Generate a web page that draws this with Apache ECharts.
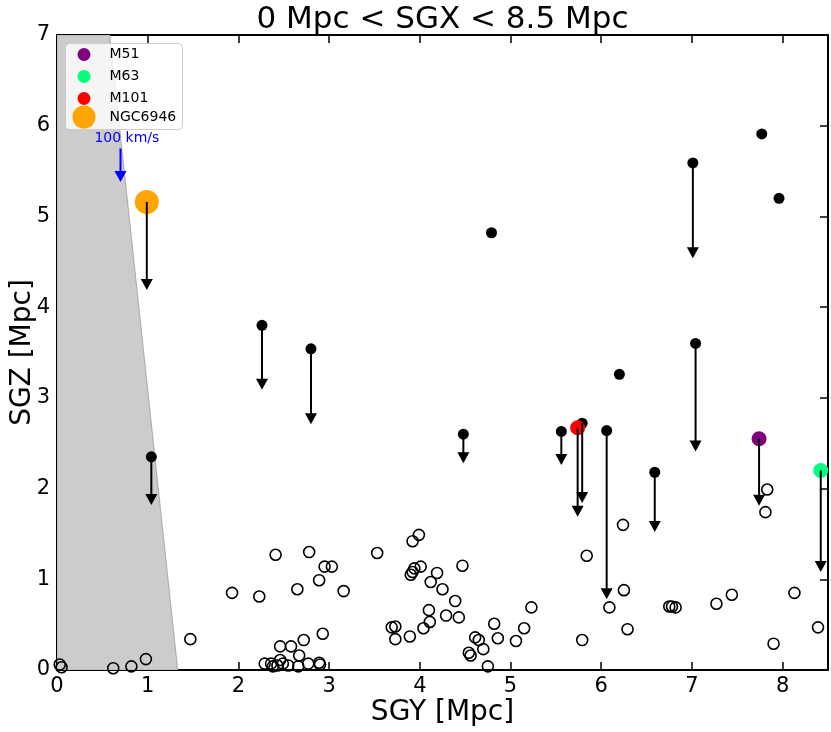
<!DOCTYPE html>
<html>
<head>
<meta charset="utf-8">
<script src="https://cdn.jsdelivr.net/npm/echarts@6/dist/echarts.min.js"></script>
<style>
html,body{margin:0;padding:0;background:#fff;}
#chart{width:831px;height:732px;}
</style>
</head>
<body>
<div id="chart"></div>
<script>
// ---- data ----
const titleText = '0 Mpc < SGX < 8.5 Mpc';
const xTicks = [0, 1, 2, 3, 4, 5, 6, 7, 8];
const yTicks = [0, 1, 2, 3, 4, 5, 6, 7];

// open circles (SGY, SGZ)
const openX = [0.03,0.05,0.62,0.82,0.98,1.47,1.93,2.23,2.41,2.78,2.95,3.03,2.89,2.65,3.16,2.93,2.72,2.58,2.46,2.67,
  2.29,2.36,2.38,2.43,2.46,2.49,2.55,2.66,2.77,2.89,2.90,
  3.53,3.99,3.92,3.90,3.92,3.94,4.01,4.19,4.12,4.25,4.47,4.39,4.10,4.11,4.29,4.43,4.04,3.69,3.73,3.73,3.89,
  4.82,4.61,4.65,4.70,4.54,4.56,4.75,4.86,5.06,5.15,5.23,5.79,5.84,6.09,6.25,6.29,6.24,6.75,6.78,6.82,
  7.27,7.44,7.90,8.13,8.39,7.83,7.81];
const openY = [0.06,0.03,0.02,0.04,0.12,0.34,0.85,0.81,1.27,1.30,1.14,1.14,0.99,0.89,0.87,0.40,0.33,0.26,0.26,0.16,
  0.07,0.07,0.04,0.05,0.11,0.07,0.05,0.04,0.07,0.08,0.06,
  1.29,1.49,1.42,1.05,1.08,1.12,1.14,1.07,0.97,0.89,1.15,0.76,0.66,0.53,0.60,0.58,0.46,0.47,0.48,0.34,0.37,
  0.51,0.36,0.33,0.23,0.19,0.16,0.04,0.35,0.32,0.46,0.69,0.33,1.26,0.69,0.88,0.45,1.60,0.70,0.70,0.69,
  0.73,0.83,0.29,0.85,0.47,1.99,1.74];

// filled black galaxies with velocity arrows (tip y; null = no arrow)
const blackX    = [1.04, 2.26, 2.80, 4.48, 5.56, 5.79, 6.06, 6.59, 7.04, 7.01, 6.20, 4.79, 7.77, 7.96];
const blackY    = [2.35, 3.80, 3.54, 2.60, 2.63, 2.72, 2.64, 2.18, 3.60, 5.59, 3.26, 4.82, 5.91, 5.20];
const blackTipY = [1.82, 3.09, 2.71, 2.28, 2.26, 1.84, 0.78, 1.52, 2.41, 4.54, null, null, null, null];

// named galaxies
const namedLabels = ['M51', 'M63', 'M101', 'NGC6946'];
const namedX      = [7.74, 8.42, 5.74, 0.99];
const namedY      = [2.55, 2.20, 2.67, 5.16];
const namedTipY   = [1.81, 1.08, 1.69, 4.19];
const namedColors = ['#800080', '#00ff7f', '#ff0000', '#ffa500'];

// shaded excluded region (polygon vertices)
const shadeX = [0, 0, 0.58, 1.33];
const shadeY = [0, 7, 7, 0];

// scale arrow
const scaleLabel = '100 km/s';
const scaleArrowX = 0.70;
const scaleArrowY0 = 5.75;
const scaleArrowY1 = 5.38;
const scaleLabelPos = [0.77, 5.86];

// ---- build ----
const FONT = 'DejaVu Sans';
const chart = echarts.init(document.getElementById('chart'));

const openData = openX.map((x, i) => [x, openY[i]]);
const blackData = blackX.map((x, i) => [x, blackY[i]]);
const arrowData = [];
blackX.forEach((x, i) => { if (blackTipY[i] !== null) arrowData.push([x, blackY[i], blackTipY[i]]); });
namedX.forEach((x, i) => arrowData.push([x, namedY[i], namedTipY[i]]));

function arrowItem(api, x, y0, y1, color) {
  const p0 = api.coord([x, y0]);
  const p1 = api.coord([x, y1]);
  const h = 11, w = 6;
  return {
    type: 'group',
    children: [
      { type: 'line', shape: { x1: p0[0], y1: p0[1], x2: p1[0], y2: p1[1] - h + 1 },
        style: { stroke: color, lineWidth: 2 } },
      { type: 'polygon', shape: { points: [[p1[0] - w, p1[1] - h], [p1[0] + w, p1[1] - h], [p1[0], p1[1]]] },
        style: { fill: color } }
    ]
  };
}

const namedSeries = namedLabels.map((name, i) => ({
  name: name,
  type: 'scatter',
  data: [[namedX[i], namedY[i]]],
  symbol: 'circle',
  symbolSize: name === 'NGC6946' ? 24 : 15,
  itemStyle: { color: namedColors[i], opacity: 1 },
  z: 4,
  silent: true
}));

const option = {
  animation: false,
  backgroundColor: '#ffffff',
  title: {
    text: titleText,
    left: 442.5,
    top: 4,
    padding: 0,
    textAlign: 'center',
    textStyle: { fontFamily: FONT, fontSize: 31, fontWeight: 'normal', color: '#000' }
  },
  grid: { left: 57, right: 3, top: 35, bottom: 62, containLabel: false, outerBoundsMode: 'none' },
  legend: [
    {
      data: ['M51', 'M63', 'M101'],
      orient: 'vertical', left: 77.5, top: 47.5, itemWidth: 13, itemHeight: 13, itemGap: 8,
      padding: 0, icon: 'circle', selectedMode: false, z: 6,
      textStyle: { fontFamily: FONT, fontSize: 14, color: '#000', padding: [0, 0, 0, 14] }
    },
    {
      data: ['NGC6946'],
      orient: 'vertical', left: 72.5, top: 105.5, itemWidth: 23, itemHeight: 23,
      padding: 0, icon: 'circle', selectedMode: false, z: 6,
      textStyle: { fontFamily: FONT, fontSize: 14, color: '#000', padding: [0, 0, 0, 9] }
    }
  ],
  graphic: [
    { type: 'rect', left: 65, top: 43, z: 5,
      shape: { width: 117, height: 86, r: 4 },
      style: { fill: 'rgba(255,255,255,0.8)', stroke: '#cccccc', lineWidth: 1 } }
  ],
  xAxis: [
    {
      type: 'value', min: 0, max: 8.5, interval: 1, position: 'bottom',
      name: 'SGY [Mpc]', nameLocation: 'middle', nameGap: 29, nameMoveOverlap: false,
      nameTextStyle: { fontFamily: FONT, fontSize: 28, color: '#000' },
      axisLine: { show: true, onZero: false, lineStyle: { color: '#000', width: 2 } },
      axisTick: { show: true, inside: true, length: 8, lineStyle: { color: '#000', width: 1.5 } },
      axisLabel: { fontFamily: FONT, fontSize: 21, color: '#000', margin: 6,
        formatter: v => (xTicks.indexOf(v) >= 0 ? String(v) : '') },
      splitLine: { show: false }
    },
    {
      type: 'value', min: 0, max: 8.5, interval: 1, position: 'top',
      axisLine: { show: true, onZero: false, lineStyle: { color: '#000', width: 2 } },
      axisTick: { show: true, inside: true, length: 8, lineStyle: { color: '#000', width: 1.5 } },
      axisLabel: { show: false },
      splitLine: { show: false }
    }
  ],
  yAxis: [
    {
      type: 'value', min: 0, max: 7, interval: 1, position: 'left',
      name: 'SGZ [Mpc]', nameLocation: 'middle', nameGap: 22, nameMoveOverlap: false,
      nameTextStyle: { fontFamily: FONT, fontSize: 28, color: '#000', lineHeight: 24 },
      axisLine: { show: true, onZero: false, lineStyle: { color: '#000', width: 2 } },
      axisTick: { show: true, inside: true, length: 8, lineStyle: { color: '#000', width: 1.5 } },
      axisLabel: { fontFamily: FONT, fontSize: 21, color: '#000', margin: 7,
        formatter: v => (yTicks.indexOf(v) >= 0 ? String(v) : '') },
      splitLine: { show: false }
    },
    {
      type: 'value', min: 0, max: 7, interval: 1, position: 'right',
      axisLine: { show: true, onZero: false, lineStyle: { color: '#000', width: 2 } },
      axisTick: { show: true, inside: true, length: 8, lineStyle: { color: '#000', width: 1.5 } },
      axisLabel: { show: false },
      splitLine: { show: false }
    }
  ],
  series: [
    {
      type: 'custom', name: 'shade', silent: true, clip: true, z: 1,
      data: [0],
      renderItem: function (params, api) {
        const pts = shadeX.map((x, i) => api.coord([x, shadeY[i]]));
        return {
          type: 'polygon', shape: { points: pts },
          style: { fill: '#cccccc', stroke: '#b0b0b0', lineWidth: 1.2 }
        };
      }
    },
    {
      type: 'custom', name: 'scale', silent: true, clip: false, z: 3,
      data: [[scaleArrowX, scaleArrowY0, scaleArrowY1]],
      renderItem: function (params, api) {
        const g = arrowItem(api, scaleArrowX, scaleArrowY0, scaleArrowY1, '#0000ff');
        const lp = api.coord(scaleLabelPos);
        g.children.push({
          type: 'text',
          style: { text: scaleLabel, x: lp[0], y: lp[1], align: 'center', verticalAlign: 'middle',
            fill: '#0000ff', font: '14px "DejaVu Sans"' }
        });
        return g;
      }
    },
    {
      type: 'scatter', name: 'open', data: openData, symbol: 'circle', symbolSize: 11,
      itemStyle: { color: 'rgba(0,0,0,0)', borderColor: '#000', borderWidth: 1.6, opacity: 1 },
      z: 2, silent: true
    },
    {
      type: 'scatter', name: 'filled', data: blackData, symbol: 'circle', symbolSize: 11,
      itemStyle: { color: '#000', opacity: 1 }, z: 3, silent: true
    }
  ].concat(namedSeries).concat([
    {
      type: 'custom', name: 'arrows', silent: true, clip: false, z: 5,
      data: arrowData,
      renderItem: function (params, api) {
        return arrowItem(api, api.value(0), api.value(1), api.value(2), '#000');
      }
    }
  ])
};

chart.setOption(option);
</script>
</body>
</html>
